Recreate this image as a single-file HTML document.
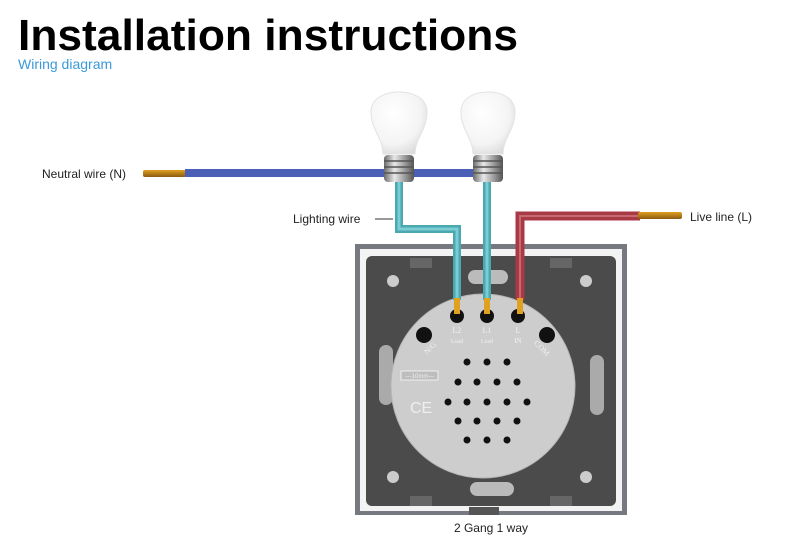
<!DOCTYPE html>
<html><head><meta charset="utf-8"><style>
html,body{margin:0;padding:0;background:#fff;width:800px;height:549px;overflow:hidden}
svg{display:block}
</style></head><body>
<svg width="800" height="549" viewBox="0 0 800 549" xmlns="http://www.w3.org/2000/svg" font-family="Liberation Sans, Arial, sans-serif">
<defs>
<radialGradient id="glass" cx="0.4" cy="0.35" r="0.7"><stop offset="0" stop-color="#ffffff"/><stop offset="0.7" stop-color="#f4f4f4"/><stop offset="1" stop-color="#dcdcdc"/></radialGradient>
<linearGradient id="metal" x1="0" x2="1"><stop offset="0" stop-color="#6a6a6a"/><stop offset="0.35" stop-color="#e8e8e8"/><stop offset="0.7" stop-color="#9a9a9a"/><stop offset="1" stop-color="#555"/></linearGradient>
<linearGradient id="copper" x1="0" y1="0" x2="0" y2="1"><stop offset="0" stop-color="#e0a020"/><stop offset="1" stop-color="#8a5a10"/></linearGradient>
</defs>
<text x="18" y="50" font-size="44" font-weight="bold" fill="#000" textLength="500" lengthAdjust="spacingAndGlyphs">Installation instructions</text>
<text x="18" y="69" font-size="14" fill="#3a9ad9">Wiring diagram</text>

<!-- plate -->
<rect x="355" y="244" width="272" height="271" fill="#767a80"/>
<rect x="360" y="249" width="262" height="262" fill="#f3f3f3"/>
<rect x="366" y="256" width="250" height="250" rx="6" fill="#4b4b4b"/>
<circle cx="393" cy="281" r="6" fill="#ccc"/><circle cx="586" cy="281" r="6" fill="#ccc"/>
<circle cx="393" cy="477" r="6" fill="#ccc"/><circle cx="586" cy="477" r="6" fill="#ccc"/>
<rect x="410" y="258" width="22" height="10" fill="#666"/><rect x="550" y="258" width="22" height="10" fill="#666"/>
<rect x="410" y="496" width="22" height="10" fill="#666"/><rect x="550" y="496" width="22" height="10" fill="#666"/>
<rect x="468" y="270" width="40" height="14" rx="7" fill="#bbb"/>
<rect x="470" y="482" width="44" height="14" rx="7" fill="#bbb"/>
<rect x="379" y="345" width="14" height="60" rx="7" fill="#aaa"/>
<rect x="590" y="355" width="14" height="60" rx="7" fill="#aaa"/>
<rect x="469" y="507" width="30" height="8" fill="#555"/>
<circle cx="483" cy="386" r="92" fill="#cdcdcd"/>
<circle cx="483" cy="386" r="92" fill="none" stroke="#b5b5b5" stroke-width="1"/>
<circle cx="457" cy="316" r="7" fill="#111"/><circle cx="487" cy="316" r="7" fill="#111"/><circle cx="518" cy="316" r="7" fill="#111"/>
<circle cx="424" cy="335" r="8" fill="#111"/><circle cx="547" cy="335" r="8" fill="#111"/>

<!-- neutral -->
<text x="42" y="178" font-size="12" fill="#222">Neutral wire (N)</text>
<rect x="143" y="170" width="43" height="7" fill="url(#copper)" rx="2"/>
<rect x="185" y="169" width="315" height="8" fill="#4a5fb5"/>

<!-- lighting wires -->
<text x="293" y="223" font-size="12" fill="#222">Lighting wire</text>
<line x1="375" y1="219" x2="393" y2="219" stroke="#333" stroke-width="1"/>
<path d="M399 180 V229 H457 V300" fill="none" stroke="#4aa8b0" stroke-width="8"/>
<path d="M399 180 V229 H457 V300" fill="none" stroke="#7ccdd3" stroke-width="3"/>
<path d="M487 180 V300" fill="none" stroke="#4aa8b0" stroke-width="8"/>
<path d="M487 180 V300" fill="none" stroke="#7ccdd3" stroke-width="3"/>

<!-- live -->
<path d="M520 300 V216 H640" fill="none" stroke="#a83a45" stroke-width="9"/>
<path d="M520 300 V216 H640" fill="none" stroke="#c86a70" stroke-width="2"/>
<rect x="638" y="212" width="44" height="7" fill="url(#copper)" rx="2"/>
<text x="690" y="221" font-size="12" fill="#222">Live line (L)</text>

<rect x="454" y="298" width="6" height="16" fill="#e0a020"/><rect x="484" y="298" width="6" height="16" fill="#e0a020"/><rect x="517" y="298" width="6" height="16" fill="#e0a020"/>

<!-- bulbs -->
<g>
<path d="M383 154 C383 138 371 130 371 112 C371 98 385 92 399 92 C413 92 427 98 427 112 C427 130 415 138 415 154 Z" fill="url(#glass)" stroke="#e2e2e2" stroke-width="1"/>
<rect x="384" y="155" width="30" height="27" rx="4" fill="url(#metal)"/>
<path d="M384 161 H414 M384 167 H414 M384 173 H414" stroke="#555" stroke-width="1.5"/>
<path d="M473 154 C473 138 461 130 461 112 C461 98 474 92 488 92 C502 92 515 98 515 112 C515 130 503 138 503 154 Z" fill="url(#glass)" stroke="#e2e2e2" stroke-width="1"/>
<rect x="473" y="155" width="30" height="27" rx="4" fill="url(#metal)"/>
<path d="M473 161 H503 M473 167 H503 M473 173 H503" stroke="#555" stroke-width="1.5"/>
</g>

<g font-family="Liberation Serif, serif" fill="#f0f0f0" font-size="8" text-anchor="middle">
<text x="457" y="333">L2</text><text x="487" y="333">L1</text><text x="518" y="333">L</text>
<text x="457" y="343" font-size="6">Load</text><text x="487" y="343" font-size="6">Load</text><text x="518" y="343" font-size="7">IN</text>
<text x="432" y="350" transform="rotate(-45 432 350)">N/G</text>
<text x="540" y="350" transform="rotate(45 540 350)">COM</text>
</g>
<rect x="401" y="371" width="37" height="9" fill="#bdbdbd" stroke="#eee" stroke-width="1"/>
<text x="420" y="378" font-size="6" fill="#eee" text-anchor="middle">—10mm—</text>
<text x="410" y="413" font-size="16" fill="#eee" font-family="Liberation Sans, sans-serif">CE</text>
<g fill="#111">
<circle cx="467" cy="362" r="3.5"/><circle cx="487" cy="362" r="3.5"/><circle cx="507" cy="362" r="3.5"/>
<circle cx="458" cy="382" r="3.5"/><circle cx="477" cy="382" r="3.5"/><circle cx="497" cy="382" r="3.5"/><circle cx="517" cy="382" r="3.5"/>
<circle cx="448" cy="402" r="3.5"/><circle cx="467" cy="402" r="3.5"/><circle cx="487" cy="402" r="3.5"/><circle cx="507" cy="402" r="3.5"/><circle cx="527" cy="402" r="3.5"/>
<circle cx="458" cy="421" r="3.5"/><circle cx="477" cy="421" r="3.5"/><circle cx="497" cy="421" r="3.5"/><circle cx="517" cy="421" r="3.5"/>
<circle cx="467" cy="440" r="3.5"/><circle cx="487" cy="440" r="3.5"/><circle cx="507" cy="440" r="3.5"/>
</g>
<text x="491" y="532" font-size="12" fill="#222" text-anchor="middle">2 Gang 1 way</text>
</svg>
</body></html>
